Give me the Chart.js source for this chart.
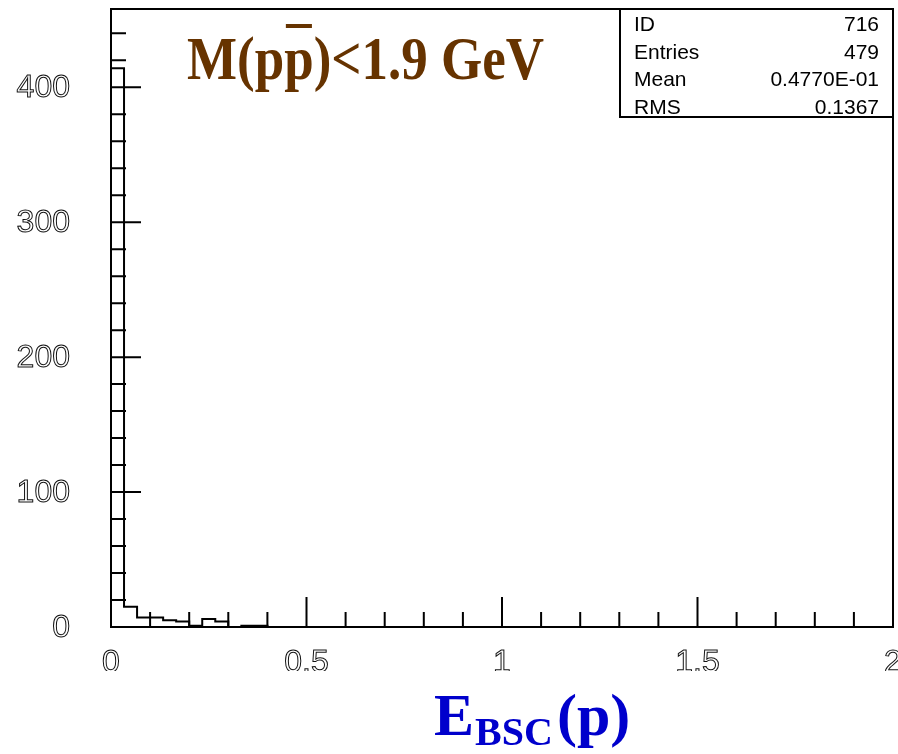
<!DOCTYPE html>
<html>
<head>
<meta charset="utf-8">
<script src="https://cdn.jsdelivr.net/npm/chart.js@4.4.0/dist/chart.umd.min.js"></script>
<style>
  html, body { margin: 0; padding: 0; background: #fff; }
  #wrap { width: 898px; height: 754px; }
</style>
</head>
<body>
<div id="wrap"><canvas id="hist" width="898" height="754"></canvas></div>
<script>
// histogram 716: 60 bins over 0..2, only the first few are filled
const binLow = 0;
const binWidth = 2 / 60;
const counts = [414, 15, 7, 7, 5, 4, 1, 6, 4, 0, 1, 1];

const xTicks = [0, 0.5, 1, 1.5, 2];
const yTicks = [0, 100, 200, 300, 400];

const statLabels = ["ID", "Entries", "Mean", "RMS"];
const statValues = ["716", "479", "0.4770E-01", "0.1367"];

// left bin edges with the contents, closed back to zero after the last bin
var points = counts.map((c, i) => ({ x: binLow + i * binWidth, y: c }));
points.push({ x: binLow + counts.length * binWidth, y: 0 });

const labelFont = '32px "Liberation Sans", Arial, sans-serif';
const serifBold = px => 'bold ' + px + 'px "Liberation Serif", "Times New Roman", serif';

const pawAxes = {
    id: 'pawAxes',
    afterDraw(chart) {
        const ctx = chart.ctx;
        const area = chart.chartArea;
        const xs = chart.scales.x;
        const ys = chart.scales.y;

        ctx.save();
        ctx.strokeStyle = '#000';
        ctx.lineWidth = 2;
        ctx.strokeRect(area.left, area.top, area.right - area.left, area.bottom - area.top);

        // inward ticks: major every 0.5 / 100, minor every 0.1 / 20
        ctx.beginPath();
        for (let i = 1; i < 20; i++) {
            const v = i / 10;
            const px = xs.getPixelForValue(v);
            const len = (i % 5 === 0) ? 30 : 15;
            ctx.moveTo(px, area.bottom);
            ctx.lineTo(px, area.bottom - len);
        }
        for (let v = 20; v < ys.max; v += 20) {
            const py = ys.getPixelForValue(v);
            const len = (v % 100 === 0) ? 30 : 15;
            ctx.moveTo(area.left, py);
            ctx.lineTo(area.left + len, py);
        }
        ctx.stroke();

        // outlined tick labels
        ctx.font = labelFont;
        ctx.lineWidth = 1;
        ctx.strokeStyle = '#111';
        ctx.textAlign = 'right';
        ctx.textBaseline = 'middle';
        yTicks.forEach(v => {
            ctx.strokeText(String(v), 70, ys.getPixelForValue(v) + 1);
        });

        ctx.save();
        ctx.beginPath();
        ctx.rect(0, area.bottom + 5, chart.width, 671 - area.bottom - 5);
        ctx.clip();
        ctx.textAlign = 'center';
        ctx.textBaseline = 'alphabetic';
        xTicks.forEach(v => {
            ctx.strokeText(String(v), xs.getPixelForValue(v), 672);
        });
        ctx.restore();

        ctx.textBaseline = 'alphabetic';

        // statistics box
        ctx.lineWidth = 2;
        ctx.strokeStyle = '#000';
        ctx.strokeRect(620, area.top, area.right - 620, 117 - area.top);
        ctx.fillStyle = '#000';
        ctx.font = '21px "Liberation Sans", Arial, sans-serif';
        statLabels.forEach((s, i) => {
            const y = 31 + i * 27.5;
            ctx.textAlign = 'left';
            ctx.fillText(s, 634, y);
            ctx.textAlign = 'right';
            ctx.fillText(statValues[i], 879, y);
        });

        // cut label, squeezed horizontally
        ctx.textAlign = 'left';
        ctx.fillStyle = '#663300';
        ctx.font = serifBold(62);
        const head = 'M(p';
        const bar = 'p';
        const tail = ')<1.9 GeV';
        const full = ctx.measureText(head + bar + tail).width;
        ctx.save();
        ctx.translate(187, 79);
        ctx.scale(357 / full, 1);
        let x = 0;
        ctx.fillText(head, x, 0);
        x += ctx.measureText(head).width;
        ctx.fillText(bar, x, 0);
        const bw = ctx.measureText(bar).width;
        ctx.fillRect(x + 2, -55, bw - 4, 4);
        x += bw;
        ctx.fillText(tail, x, 0);
        ctx.restore();

        // axis title E_BSC(p)
        ctx.fillStyle = '#0000cc';
        ctx.font = serifBold(60);
        ctx.fillText('E', 434, 735);
        ctx.font = serifBold(40);
        ctx.fillText('BSC', 475, 745);
        ctx.font = serifBold(60);
        ctx.fillText('(p)', 557, 735);
        ctx.restore();
    }
};

new Chart(document.getElementById('hist'), {
    type: 'line',
    data: {
        datasets: [{
            data: points,
            stepped: 'before',
            borderColor: '#000',
            borderWidth: 2,
            pointRadius: 0,
            fill: false
        }]
    },
    options: {
        responsive: false,
        animation: false,
        events: [],
        layout: { padding: { left: 0, top: 9, right: 5, bottom: 0 } },
        plugins: { legend: { display: false }, tooltip: { enabled: false } },
        scales: {
            x: {
                type: 'linear',
                min: 0,
                max: 2,
                grid: { display: false },
                border: { display: false },
                ticks: { display: false },
                afterFit: s => { s.height = 754 - 627; }
            },
            y: {
                min: 0,
                max: 458,
                grid: { display: false },
                border: { display: false },
                ticks: { display: false },
                afterFit: s => { s.width = 111; }
            }
        }
    },
    plugins: [pawAxes]
});
</script>
</body>
</html>
